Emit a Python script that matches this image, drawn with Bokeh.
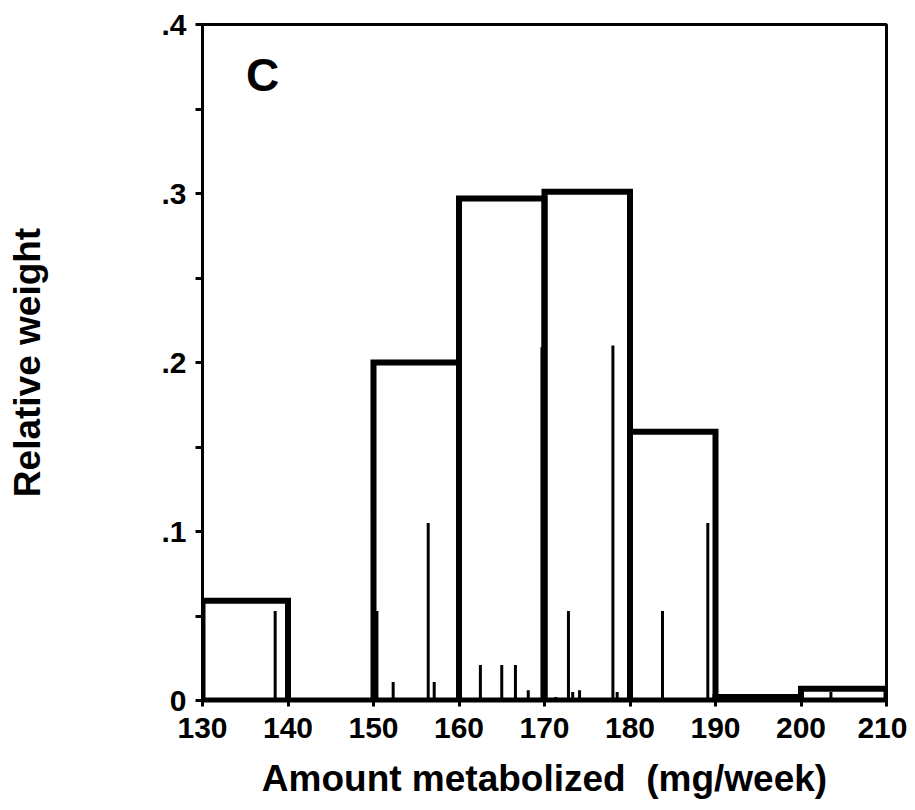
from bokeh.plotting import figure
from bokeh.models import Range1d, FixedTicker, CustomJSTickFormatter, Label, ColumnDataSource
from bokeh.embed import file_html
from bokeh.resources import INLINE

# Histogram bins (mg/week) and relative weights
bin_left = [130, 140, 150, 160, 170, 180, 190, 200]
bin_right = [140, 150, 160, 170, 180, 190, 200, 210]
bin_weight = [0.059, 0.0, 0.200, 0.297, 0.301, 0.159, 0.002, 0.007]

# Individual spikes
spike_x = [138.5, 150.4, 152.3, 156.4, 157.1, 162.5, 165.0, 166.6, 168.1, 169.7,
           171.3, 172.8, 173.3, 174.1, 178.0, 178.5, 183.8, 189.1, 203.5]
spike_h = [0.053, 0.053, 0.011, 0.105, 0.011, 0.021, 0.021, 0.021, 0.006, 0.209,
           0.002, 0.053, 0.005, 0.006, 0.210, 0.005, 0.053, 0.105, 0.005]

x_ticks = [130, 140, 150, 160, 170, 180, 190, 200, 210]
y_ticks = [0, 0.1, 0.2, 0.3, 0.4]
y_minor = [0.05, 0.15, 0.25, 0.35]

FONT = "Liberation Sans"

p = figure(width=907, height=802, output_backend="svg", toolbar_location=None,
           x_range=Range1d(130, 210), y_range=Range1d(0, 0.4),
           min_border_left=202, min_border_right=21, min_border_top=24, min_border_bottom=102)
p.grid.visible = False
p.outline_line_color = "black"
p.outline_line_width = 3

hist = ColumnDataSource(dict(left=bin_left, right=bin_right, top=bin_weight))
p.quad(left="left", right="right", top="top", bottom=0, source=hist,
       fill_color=None, line_color="black", line_width=6, line_join="miter")

sp = ColumnDataSource(dict(x=spike_x, h=spike_h))
p.segment(x0="x", y0=0, x1="x", y1="h", source=sp, line_color="black", line_width=3)

p.add_layout(Label(x=135.1, y=0.37, text="C", text_font=FONT, text_font_style="bold",
                   text_color="black",
                   text_font_size="46px", text_align="left", text_baseline="middle"))

xa = p.xaxis[0]
xa.ticker = FixedTicker(ticks=x_ticks)
xa.axis_line_width = 4
xa.major_tick_line_width = 3
xa.major_tick_out = 6
xa.major_tick_in = 0
xa.minor_tick_out = 0
xa.major_label_text_font = FONT
xa.major_label_text_font_style = "bold"
xa.major_label_text_font_size = "30px"
xa.major_label_text_color = "black"
xa.major_label_standoff = 11
xa.axis_label = "Amount metabolized\u00a0\u00a0(mg/week)"
xa.axis_label_text_font = FONT
xa.axis_label_text_font_style = "bold"
xa.axis_label_text_font_size = "37px"
xa.axis_label_text_color = "black"
xa.axis_label_standoff = 17

ya = p.yaxis[0]
ya.ticker = FixedTicker(ticks=y_ticks, minor_ticks=y_minor)
ya.formatter = CustomJSTickFormatter(code="return tick == 0 ? '0' : tick.toFixed(1).replace('0.', '.');")
ya.axis_line_width = 3
ya.major_tick_line_width = 3
ya.major_tick_out = 7
ya.major_tick_in = 0
ya.minor_tick_line_width = 3
ya.minor_tick_out = 7
ya.minor_tick_in = 0
ya.major_label_text_font = FONT
ya.major_label_text_font_style = "bold"
ya.major_label_text_font_size = "30px"
ya.major_label_text_color = "black"
ya.major_label_standoff = 9
ya.axis_label = "Relative weight"
ya.axis_label_text_font = FONT
ya.axis_label_text_font_style = "bold"
ya.axis_label_text_font_size = "37px"
ya.axis_label_text_color = "black"
ya.axis_label_standoff = 110

open("out.html", "w").write(file_html(p, INLINE))
